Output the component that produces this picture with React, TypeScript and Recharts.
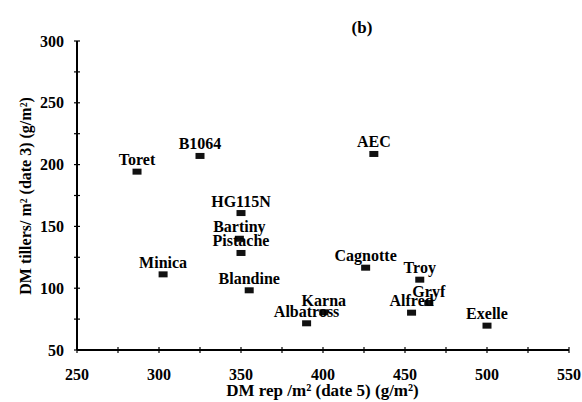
import { ScatterChart, Scatter, XAxis, YAxis } from 'recharts';

// cultivars and their values
const cultivars = ['Toret', 'B1064', 'AEC', 'HG115N', 'Bartiny', 'Pistache', 'Minica', 'Blandine', 'Albatross', 'Karna', 'Cagnotte', 'Troy', 'Gryf', 'Alfred', 'Exelle'];
const dmRep = [286.6, 325, 431, 350, 349, 350, 302.5, 355, 390, 400.5, 426, 459, 464.5, 454, 500];
const dmTillers = [194.3, 207, 208.6, 160.8, 140, 128.5, 111.2, 98.3, 71.6, 80.5, 116.6, 106.9, 88, 80.2, 69.7];

const xTicks = [250, 275, 300, 325, 350, 375, 400, 425, 450, 475, 500, 525, 550];
const yTicks = [50, 75, 100, 125, 150, 175, 200, 225, 250, 275, 300];

const points = cultivars.map((name, i) => ({ name, x: dmRep[i], y: dmTillers[i] }));

const FONT = '"Liberation Serif", "Times New Roman", serif';

const XTick = (props: any) => {
  const { x, y, payload } = props;
  const v = payload.value;
  return (
    <g>
      <line x1={x} x2={x} y1={y - 3} y2={y + 3} stroke="#000" strokeWidth={1.2} />
      {v % 50 === 0 && (
        <text x={x} y={y + 30} textAnchor="middle" fontFamily={FONT} fontWeight="bold" fontSize={16} fill="#000">
          {v}
        </text>
      )}
    </g>
  );
};

const YTick = (props: any) => {
  const { x, y, payload } = props;
  const v = payload.value;
  return (
    <g>
      <line x1={x - 3} x2={x + 3} y1={y} y2={y} stroke="#000" strokeWidth={1.2} />
      {v % 50 === 0 && (
        <text x={x - 13} y={y + 5.5} textAnchor="end" fontFamily={FONT} fontWeight="bold" fontSize={16} fill="#000">
          {v}
        </text>
      )}
    </g>
  );
};

const Marker = (props: any) => {
  const { cx, cy } = props;
  return <rect x={cx - 4.5} y={cy - 3} width={9} height={6} fill="#111" />;
};

const NameLabel = (props: any) => {
  const { cx, cy, payload } = props;
  return (
    <text x={cx} y={cy - 6.5} textAnchor="middle" fontFamily={FONT} fontWeight="bold" fontSize={16} fill="#000">
      {payload.name}
    </text>
  );
};

export default function App() {
  return (
    <div style={{ position: 'absolute', left: 0, top: 0, width: 582, height: 402, background: '#fff' }}>
      <ScatterChart width={582} height={402} margin={{ top: 41, right: 13, bottom: 0, left: 0 }}>
        <XAxis
          type="number"
          dataKey="x"
          domain={[250, 550]}
          ticks={xTicks}
          interval={0}
          tickSize={0}
          tickMargin={0}
          tick={<XTick />}
          height={52}
          axisLine={{ stroke: '#000', strokeWidth: 2 }}
        />
        <YAxis
          type="number"
          dataKey="y"
          domain={[50, 300]}
          ticks={yTicks}
          interval={0}
          tickSize={0}
          tickMargin={0}
          tick={<YTick />}
          width={77}
          axisLine={{ stroke: '#000', strokeWidth: 2 }}
        />
        <Scatter data={points} shape={<Marker />} isAnimationActive={false} />
        <Scatter data={points} shape={<NameLabel />} isAnimationActive={false} />
        <text x={362} y={33} textAnchor="middle" fontFamily={FONT} fontWeight="bold" fontSize={17} fill="#000">
          (b)
        </text>
        <text x={322.5} y={395.5} textAnchor="middle" fontFamily={FONT} fontWeight="bold" fontSize={17} fill="#000">
          DM rep /m² (date 5) (g/m²)
        </text>
        <text
          x={25}
          y={196}
          transform="rotate(-90, 25, 196)"
          textAnchor="middle"
          dominantBaseline="central"
          fontFamily={FONT}
          fontWeight="bold"
          fontSize={16}
          fill="#000"
        >
          DM tillers/ m² (date 3) (g/m²)
        </text>
      </ScatterChart>
    </div>
  );
}
